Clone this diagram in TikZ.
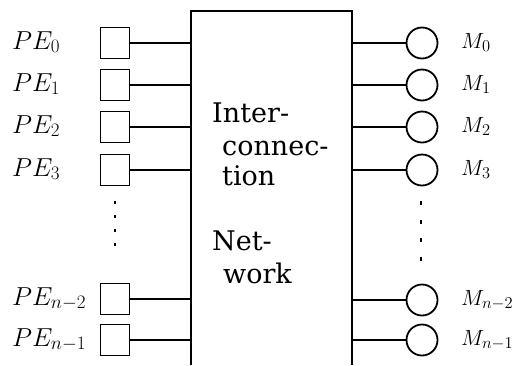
\RequirePackage{fix-cm}
\documentclass[tikz,border=0pt]{standalone}
\usepackage{fontspec}
\newfontfamily\netfont{DejaVu Serif}
\DeclareMathSizes{26}{26}{19}{14}
\DeclareMathSizes{22}{22}{16.5}{12}
\begin{document}
\begin{tikzpicture}[x=1pt,y=-1pt,
  pebox/.style={draw,line width=1.8pt,rectangle,minimum width=29pt,minimum height=31pt,inner sep=0pt},
  mcirc/.style={draw,line width=1.8pt,circle,minimum size=31pt,inner sep=0pt},
  conn/.style={line width=1.7pt},
  netline/.style={line width=2.2pt},
  pelab/.style={anchor=base west,inner sep=0pt,font=\fontsize{26}{28}\selectfont},
  mlab/.style={anchor=base west,inner sep=0pt,font=\fontsize{22}{24}\selectfont},
  nettext/.style={anchor=base west,inner sep=0pt,font=\netfont\fontsize{27}{30}\selectfont},
  dotcol/.style={line width=2.2pt,dash pattern=on 3pt off 11pt}]
\useasboundingbox (0,0) rectangle (526,365);
% network box (open at bottom)
\coordinate (netBL) at (191,365);
\coordinate (netTL) at (191,11);
\coordinate (netTR) at (352,11);
\coordinate (netBR) at (352,365);
\draw[netline] (netBL) -- (netTL) -- (netTR) -- (netBR);
% text inside network
\node[nettext] (t1) at (212,122) {Inter-};
\node[nettext] (t2) at (222,155) {connec-};
\node[nettext] (t3) at (222,185) {tion};
\node[nettext] (t4) at (212,250) {Net-};
\node[nettext] (t5) at (223,283) {work};
% PE boxes
\foreach \n/\r/\s in {p0/43/0, p1/85/1, p2/127/2, p3/170/3, pa/299/{n-2}, pb/340/{n-1}}{
  \node[pebox] (\n) at (115,\r) {};
  \node[pelab] (\n lab) at (12,\r+6) {$PE_{\s}$};
  \draw[conn] (\n.east) -- (\n.east -| netTL);
}
% memory circles
\foreach \n/\r/\s in {m0/43/0, m1/85/1, m2/127/2, m3/170/3, ma/300/{n-2}, mb/340/{n-1}}{
  \node[mcirc] (\n) at (422,\r) {};
  \node[mlab] (\n lab) at (461,\r+5) {$M_{\s}$};
  \draw[conn] (\n.west -| netTR) -- (\n.west);
}
% vertical dots
\coordinate (ldA) at (115,201);
\coordinate (ldB) at (115,248);
\draw[dotcol] (ldA) -- (ldB);
\coordinate (rdA) at (421,201);
\coordinate (rdB) at (421,261);
\draw[line width=2.2pt,dash pattern=on 4pt off 14.5pt] (rdA) -- (rdB);
\end{tikzpicture}
\end{document}
